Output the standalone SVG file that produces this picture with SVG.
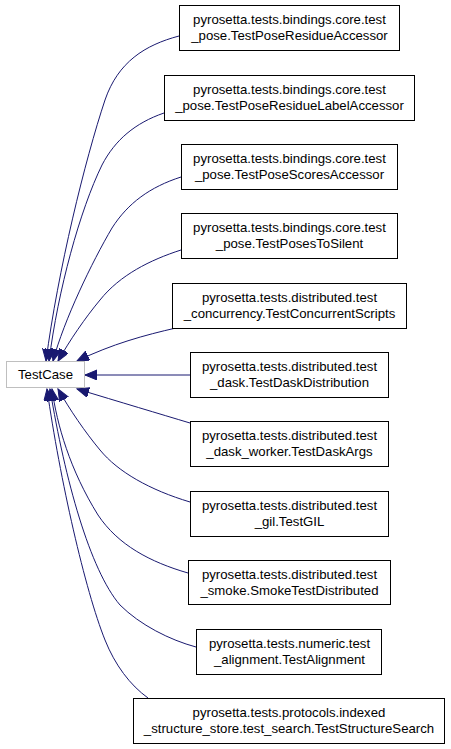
<svg xmlns="http://www.w3.org/2000/svg" width="451" height="749" viewBox="0 0 451 749">
<style>
.n rect{fill:#fff;stroke:#000;stroke-width:1}
.n text{font-family:"Liberation Sans",Arial,sans-serif;font-size:13.2px;fill:#000;text-anchor:middle}
#testcase rect{stroke:#bfbfbf}
.e path{fill:none;stroke:#191970;stroke-width:1;marker-end:url(#ah)}
</style>
<defs>
<marker id="ah" markerUnits="userSpaceOnUse" markerWidth="14" markerHeight="12" refX="12" refY="5" orient="auto">
<path d="M0,0 L12,5 L0,10 z" fill="#191970" stroke="#191970" stroke-width="1"/>
</marker>
</defs>
<rect width="451" height="749" fill="#fff"/>
<g class="e" id="edges">
<path d="M179,36 C145,45 118,62 105,100 C85,160 58,270 46,361"/>
<path d="M164,113 C135,123 115,140 102,165 C80,210 58,290 49,361"/>
<path d="M181,177 C150,187 128,203 112,228 C92,262 64,320 53,361"/>
<path d="M181,250 C150,260 120,275 100,300 C85,318 70,340 58,361"/>
<path d="M176,328 C145,335 112,344 77,361"/>
<path d="M190,375 L85,375"/>
<path d="M190,423 C160,414 120,402 77,389"/>
<path d="M190,502 C150,490 118,472 100,450 C85,432 70,410 58,389"/>
<path d="M188,573 C150,562 118,545 98,515 C70,470 57,425 52,389"/>
<path d="M196,647 C170,640 140,625 120,605 C90,570 65,480 50,389"/>
<path d="M148,698 C130,685 115,665 105,640 C85,590 60,480 47,389"/>
</g>
<g class="n" id="testcase"><rect x="6.5" y="361.5" width="78" height="26"/><text x="45.5" y="379">TestCase</text></g>
<g class="n" id="n1"><rect x="179.5" y="5.5" width="220" height="45"/><text x="289.5" y="23.5">pyrosetta.tests.bindings.core.test</text><text x="289.5" y="39.5">_pose.TestPoseResidueAccessor</text></g>
<g class="n" id="n2"><rect x="164.5" y="75.5" width="250" height="45"/><text x="289.5" y="93.5">pyrosetta.tests.bindings.core.test</text><text x="289.5" y="109.5">_pose.TestPoseResidueLabelAccessor</text></g>
<g class="n" id="n3"><rect x="181.5" y="144.5" width="216" height="45"/><text x="289.5" y="162.5">pyrosetta.tests.bindings.core.test</text><text x="289.5" y="178.5">_pose.TestPoseScoresAccessor</text></g>
<g class="n" id="n4"><rect x="181.5" y="213.5" width="216" height="45"/><text x="289.5" y="231.5">pyrosetta.tests.bindings.core.test</text><text x="289.5" y="247.5">_pose.TestPosesToSilent</text></g>
<g class="n" id="n5"><rect x="172.5" y="283.5" width="234" height="45"/><text x="289.5" y="301.5">pyrosetta.tests.distributed.test</text><text x="289.5" y="317.5">_concurrency.TestConcurrentScripts</text></g>
<g class="n" id="n6"><rect x="190.5" y="352.5" width="198" height="45"/><text x="289.5" y="370.5">pyrosetta.tests.distributed.test</text><text x="289.5" y="386.5">_dask.TestDaskDistribution</text></g>
<g class="n" id="n7"><rect x="190.5" y="421.5" width="198" height="45"/><text x="289.5" y="439.5">pyrosetta.tests.distributed.test</text><text x="289.5" y="455.5">_dask_worker.TestDaskArgs</text></g>
<g class="n" id="n8"><rect x="190.5" y="491.5" width="198" height="45"/><text x="289.5" y="509.5">pyrosetta.tests.distributed.test</text><text x="289.5" y="525.5">_gil.TestGIL</text></g>
<g class="n" id="n9"><rect x="188.5" y="560.5" width="202" height="44"/><text x="289.5" y="578.5">pyrosetta.tests.distributed.test</text><text x="289.5" y="594.5">_smoke.SmokeTestDistributed</text></g>
<g class="n" id="n10"><rect x="196.5" y="629.5" width="185" height="45"/><text x="289.5" y="647.5">pyrosetta.tests.numeric.test</text><text x="289.5" y="663.5">_alignment.TestAlignment</text></g>
<g class="n" id="n11"><rect x="133.5" y="698.5" width="311" height="45"/><text x="289" y="716.5">pyrosetta.tests.protocols.indexed</text><text x="289" y="732.5">_structure_store.test_search.TestStructureSearch</text></g>
</svg>
